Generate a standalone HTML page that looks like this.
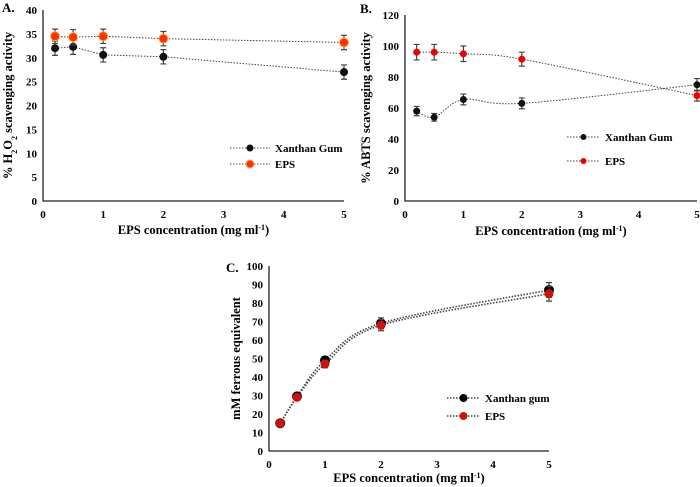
<!DOCTYPE html>
<html><head><meta charset="utf-8"><style>
body{margin:0;background:#fff}
svg{display:block;font-family:"Liberation Serif",serif;font-weight:bold}
</style></head><body>
<svg id="s" width="700" height="487" viewBox="0 0 700 487"></svg>
<script>
const xVals=[0.2,0.5,1,2,5];
const xTicks=[0,1,2,3,4,5];
const aXan=[32,32.3,30.6,30.2,27];
const aEps=[34.5,34.3,34.5,34,33.2];
const aErr=[1.5,1.6,1.5,1.5,1.5];
const aTicks=[0,5,10,15,20,25,30,35,40];
const bXan=[58,54,65.5,63,75];
const bEps=[96,96,95,91.5,68];
const bErrX=[3,2.5,3.5,3.5,4];
const bErrE=[5,5,5,4.5,3.5];
const bTicks=[0,20,40,60,80,100,120];
const cXan=[15,29.5,49,69,87];
const cEps=[15,29,47,68,85];
const cErr=[1.5,1.5,2,3,4];
const cTicks=[0,10,20,30,40,50,60,70,80,90,100];
const S=document.getElementById('s');const NS='http://www.w3.org/2000/svg';
function el(t,a,p){const e=document.createElementNS(NS,t);for(const k in a)e.setAttribute(k,a[k]);(p||S).appendChild(e);return e;}
function txt(x,y,s,size,anchor,name,rot){const e=el('text',{x:x,y:y,'font-size':size,'text-anchor':anchor||'middle',fill:'#000'});e.textContent=s;if(rot)e.setAttribute('transform','rotate(-90 '+x+' '+y+')');return e;}
function curve(pts){let d='M'+pts[0][0]+','+pts[0][1];for(let i=0;i<pts.length-1;i++){const p0=pts[Math.max(i-1,0)],p1=pts[i],p2=pts[i+1],p3=pts[Math.min(i+2,pts.length-1)];const c1=[p1[0]+(p2[0]-p0[0])/6,p1[1]+(p2[1]-p0[1])/6],c2=[p2[0]-(p3[0]-p1[0])/6,p2[1]-(p3[1]-p1[1])/6];d+=' C'+c1+' '+c2+' '+p2;}return d;}
function panel(o){
 const g=el('g',{});
 const X=v=>o.x0+(o.x1-o.x0)*v/5, Y=v=>o.y0-(o.y0-o.y1)*v/o.ymax;
 const ax=el('path',{d:'M'+o.x0+','+o.y1+' V'+o.y0+' H'+o.x1,stroke:'#222','stroke-width':1.3,fill:'none'},g);
 o.yt.forEach(v=>{const t=txt(o.x0-6,Y(v)+4,String(v),11,'end','y-tick-label');g.appendChild(t);});
 xTicks.forEach(v=>{const t=txt(X(v),o.y0+17,String(v),11,'middle','x-tick-label');g.appendChild(t);});
 o.series.forEach(s=>{
  const pts=xVals.map((x,i)=>[X(x),Y(s.v[i])]);
  const ln=el('path',{d:o.straight?'M'+pts.join(' L'):curve(pts),stroke:'#444','stroke-width':s.w||1,'stroke-dasharray':'1.5,1.5',fill:'none'},g);
  pts.forEach((p,i)=>{const e=s.e[i];const ty=Y(s.v[i]+e),by=Y(s.v[i]-e);
   const eb=el('path',{d:'M'+p[0]+','+ty+' V'+by+' M'+(p[0]-3)+','+ty+' h6 M'+(p[0]-3)+','+by+' h6',stroke:'#444','stroke-width':1.2,fill:'none'},g);
   const c=el('circle',{cx:p[0],cy:p[1],r:s.r,fill:s.c,stroke:s.sc||'none','stroke-width':1},g);});
 });
 o.legend.forEach((L,i)=>{const y=L.y;const l=el('path',{d:'M'+L.x+','+y+' h'+L.len,stroke:'#444','stroke-dasharray':'1.5,1.5',fill:'none','stroke-width':L.w||1},g);
  const c=el('circle',{cx:L.x+L.len/2,cy:y,r:L.r,fill:L.c,stroke:L.sc||'none'},g);
  g.appendChild(txt(L.x+L.len+5,y+4,L.t,11,'start','legend-entry'));});
 g.appendChild(txt(o.lx,o.ly,o.label,13,'start','panel-label'));
 const xt=txt((o.x0+o.x1)/2,o.xty,'',12.5,'middle','x-axis-title');xt.innerHTML='EPS concentration (mg ml<tspan baseline-shift="super" font-size="8">-1</tspan>)';g.appendChild(xt);
 const yt=txt(o.ytx,(o.y0+o.y1)/2,'',12.5,'middle','y-axis-title',true);yt.innerHTML=o.ytitle;g.appendChild(yt);
}
panel({name:'panel-a',x0:43,x1:344,y0:201,y1:10,ymax:40,yt:aTicks,label:'A.',lx:2,ly:12,xty:234,ytx:12,straight:true,
 ytitle:'% H<tspan baseline-shift="sub" font-size="8">2</tspan>O<tspan baseline-shift="sub" font-size="8">2</tspan> scavenging activity',
 series:[{id:'xanthan-gum',v:aXan,e:aErr,c:'#111',r:4},{id:'eps',v:aEps,e:aErr,c:'#ff3300',sc:'#ffaa44',r:4.5}],
 legend:[{x:230,len:40,y:148,c:'#111',r:3.5,t:'Xanthan Gum'},{x:230,len:40,y:164,c:'#ff3300',sc:'#ffaa44',r:4,t:'EPS'}]});
panel({name:'panel-b',x0:405,x1:697,y0:201,y1:15,ymax:120,yt:bTicks,label:'B.',lx:360,ly:13,xty:235,ytx:370,
 ytitle:'% ABTS scavenging activity',
 series:[{id:'xanthan-gum',v:bXan,e:bErrX,c:'#111',r:3.5},{id:'eps',v:bEps,e:bErrE,c:'#ee0000',r:3.5}],
 legend:[{x:567,len:33,y:137,c:'#111',r:3,t:'Xanthan Gum'},{x:567,len:33,y:161,c:'#ee0000',r:3,t:'EPS'}]});
panel({name:'panel-c',x0:269,x1:549,y0:451,y1:266,ymax:100,yt:cTicks,label:'C.',lx:226,ly:272,xty:482,ytx:240,
 ytitle:'mM ferrous equivalent',
 series:[{id:'xanthan-gum',v:cXan,e:cErr,c:'#000',r:5,w:1.6},{id:'eps',v:cEps,e:cErr,c:'#cc1111',r:4.5,w:1.6}],
 legend:[{x:447,len:33,y:398,c:'#000',r:4,t:'Xanthan gum',w:1.6},{x:447,len:33,y:416,c:'#cc1111',r:4,t:'EPS',w:1.6}]});
</script>
</body></html>
